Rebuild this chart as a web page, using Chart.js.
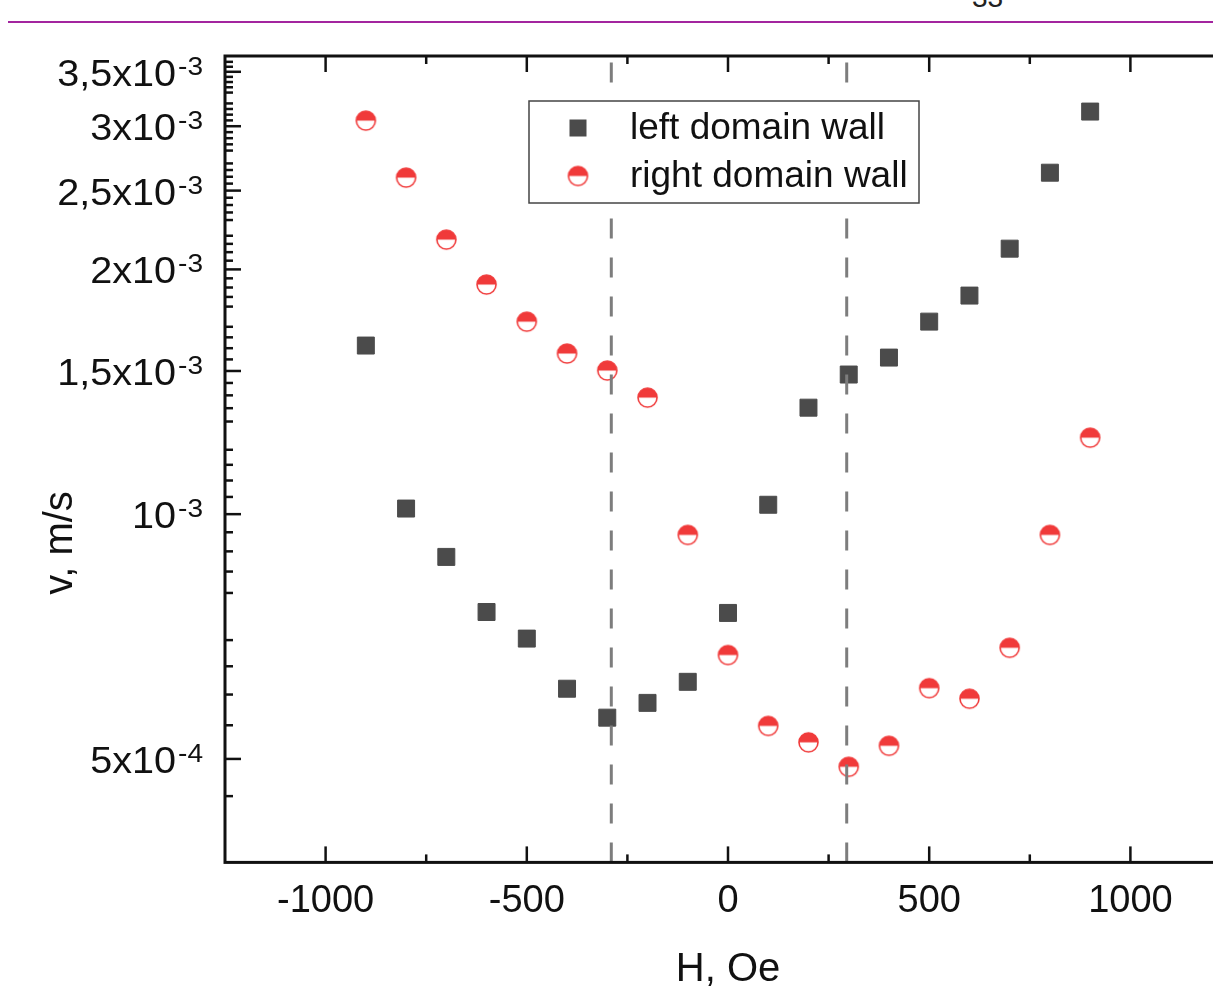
<!DOCTYPE html>
<html>
<head>
<meta charset="utf-8">
<script src="https://cdn.jsdelivr.net/npm/chart.js@4.4.1/dist/chart.umd.min.js"></script>
<style>
  html, body { margin:0; padding:0; background:#fff; overflow:hidden; width:1213px; height:989px; }
  #rule { position:absolute; left:8px; top:21px; width:1205px; height:2px; background:#a3259f; }
  #pageNo { position:absolute; left:972px; top:-16px; font:28px 'Liberation Sans', Arial, sans-serif; line-height:28px; color:#222; }
  #wrap { position:absolute; left:0; top:0; width:1260px; height:989px; }
</style>
</head>
<body>
<div id="rule"></div>
<div id="pageNo">33</div>
<div id="wrap"><canvas id="chart"></canvas></div>
<script>
// field values, Oe
const fieldH = [-900,-800,-700,-600,-500,-400,-300,-200,-100,0,100,200,300,400,500,600,700,800,900];
// wall velocity, m/s
const leftWall = [1.612e-3,1.016e-3,8.86e-4,7.58e-4,7.03e-4,6.10e-4,5.62e-4,5.86e-4,6.22e-4,7.56e-4,
                  1.027e-3,1.352e-3,1.485e-3,1.558e-3,1.725e-3,1.857e-3,2.121e-3,2.630e-3,3.127e-3];
const rightWall = [3.048e-3,2.594e-3,2.176e-3,1.916e-3,1.725e-3,1.576e-3,1.502e-3,1.391e-3,9.43e-4,6.71e-4,
                   5.49e-4,5.24e-4,4.89e-4,5.19e-4,6.11e-4,5.93e-4,6.85e-4,9.43e-4,1.242e-3];
const seriesNames = ['left domain wall', 'right domain wall'];
const coerciveH = [-290, 295];
const yTitle = 'v, m/s';

const xRange = [-1250, 1250];
const yRange = [3.73e-4, 3.66e-3];
const xMajorTicks = [-1000, -500, 0, 500, 1000];
const xTickLabels = ['-1000', '-500', '0', '500', '1000'];
const xMinorTicks = [-750, -250, 250, 750];
const yMajorTicks = [5e-4, 1e-3, 1.5e-3, 2e-3, 2.5e-3, 3e-3, 3.5e-3];
const yTickMantissa = ['5x10', '10', '1,5x10', '2x10', '2,5x10', '3x10', '3,5x10'];
const yTickExponent = ['-4', '-3', '-3', '-3', '-3', '-3', '-3'];
// minor ticks every 0.05e-3 between 0.45e-3 and 3.6e-3
const yMinorTicks = [];
for (let k = 9; k <= 72; k++) { if (k % 10 !== 0 && k % 10 !== 5 || k === 9) yMinorTicks.push(k * 5e-5); }

const FONT = "'Liberation Sans', Arial, sans-serif";
const squareColor = '#4b4b4b';
const red = '#f03a3a';

// half-filled circle marker
function halfCircle(r) {
  const c = document.createElement('canvas');
  const s = Math.ceil(r * 2 + 4);
  c.width = s; c.height = s;
  const g = c.getContext('2d');
  const m = s / 2;
  g.fillStyle = '#fff';
  g.beginPath(); g.arc(m, m, r, 0, Math.PI * 2); g.fill();
  g.fillStyle = red;
  g.beginPath(); g.arc(m, m, r, Math.PI, Math.PI * 2); g.closePath(); g.fill();
  g.strokeStyle = red; g.lineWidth = 1.6;
  g.beginPath(); g.arc(m, m, r, 0, Math.PI * 2); g.stroke();
  return c;
}
const circleMarker = halfCircle(9.5);

// text slightly wider than the font, like the original export
function wideText(ctx, txt, xRight, yBase, size, stretch) {
  ctx.save();
  ctx.font = size + 'px ' + FONT;
  ctx.translate(xRight, yBase);
  ctx.scale(stretch, 1);
  ctx.fillText(txt, 0, 0);
  const w = ctx.measureText(txt).width * stretch;
  ctx.restore();
  return w;
}

const framePlugin = {
  id: 'frame',
  afterDraw(chart) {
    const { ctx, chartArea: a, scales: { x, y } } = chart;
    ctx.save();
    // axes box
    ctx.strokeStyle = '#111';
    ctx.lineWidth = 3;
    ctx.strokeRect(a.left, a.top, a.right - a.left, a.bottom - a.top);
    ctx.lineWidth = 2.5;
    const tick = (x1, y1, x2, y2) => { ctx.beginPath(); ctx.moveTo(x1, y1); ctx.lineTo(x2, y2); ctx.stroke(); };
    xMajorTicks.forEach(v => { const p = x.getPixelForValue(v); tick(p, a.bottom, p, a.bottom - 16); tick(p, a.top, p, a.top + 16); });
    xMinorTicks.forEach(v => { const p = x.getPixelForValue(v); tick(p, a.bottom, p, a.bottom - 8); tick(p, a.top, p, a.top + 8); });
    yMajorTicks.forEach(v => { const p = y.getPixelForValue(v); tick(a.left, p, a.left + 16, p); });
    yMinorTicks.forEach(v => { const p = y.getPixelForValue(v); tick(a.left, p, a.left + 8, p); });

    // y tick labels with superscript exponent
    ctx.fillStyle = '#111';
    ctx.textAlign = 'right';
    ctx.textBaseline = 'alphabetic';
    yMajorTicks.forEach((v, i) => {
      const p = y.getPixelForValue(v);
      const ew = wideText(ctx, yTickExponent[i], 203, p + 3, 26, 1.08);
      wideText(ctx, yTickMantissa[i], 203 - ew - 2, p + 14, 36, 1.1);
    });

    // y axis title (sits low in the original)
    ctx.save();
    ctx.translate(61, 543);
    ctx.rotate(-Math.PI / 2);
    ctx.textAlign = 'center';
    ctx.textBaseline = 'middle';
    ctx.font = '40px ' + FONT;
    ctx.fillText(yTitle, 0, 0);
    ctx.restore();

    // legend
    const lx = 529, ly = 101, lw = 390, lh = 102;
    ctx.fillStyle = '#fff';
    ctx.fillRect(lx, ly, lw, lh);
    ctx.strokeStyle = '#444';
    ctx.lineWidth = 1.5;
    ctx.strokeRect(lx, ly, lw, lh);
    ctx.fillStyle = squareColor;
    ctx.fillRect(578 - 8.5, 128 - 8.5, 17, 17);
    ctx.drawImage(circleMarker, 578 - circleMarker.width / 2, 176 - circleMarker.height / 2);
    ctx.fillStyle = '#111';
    ctx.textAlign = 'left';
    ctx.textBaseline = 'middle';
    ctx.font = '37px ' + FONT;
    ctx.fillText(seriesNames[0], 630, 129);
    ctx.fillText(seriesNames[1], 630, 177);
    ctx.restore();
  }
};

const toPoints = arr => fieldH.map((h, i) => ({ x: h, y: arr[i] }));
const dashed = h => ({
  type: 'line', data: [{ x: h, y: yRange[0] }, { x: h, y: yRange[1] }],
  borderColor: '#7d7d7d', borderWidth: 3, borderDash: [20, 19], pointRadius: 0, order: 0
});

new Chart(document.getElementById('chart'), {
  type: 'scatter',
  data: {
    datasets: [
      dashed(coerciveH[0]),
      dashed(coerciveH[1]),
      { label: seriesNames[0], data: toPoints(leftWall), pointStyle: 'rect', pointRadius: 12,
        backgroundColor: squareColor, borderColor: squareColor, borderWidth: 1, order: 1 },
      { label: seriesNames[1], data: toPoints(rightWall), pointStyle: circleMarker, pointRadius: 10, order: 1 }
    ]
  },
  options: {
    responsive: true, maintainAspectRatio: false, animation: false,
    layout: { padding: { left: 217, top: 56, right: 29, bottom: 0 } },
    plugins: { legend: { display: false }, tooltip: { enabled: false } },
    scales: {
      x: {
        type: 'linear', min: xRange[0], max: xRange[1],
        afterBuildTicks: s => { s.ticks = xMajorTicks.map(v => ({ value: v })); },
        grid: { display: false }, border: { display: false },
        ticks: { color: '#111', font: { family: FONT, size: 38 }, padding: 8, maxRotation: 0,
                 callback: (v, i) => xTickLabels[i] },
        title: { display: true, text: 'H, Oe', color: '#111', font: { family: FONT, size: 40, lineHeight: 1 },
                 padding: { top: 18, bottom: -1 } }
      },
      y: {
        type: 'logarithmic', min: yRange[0], max: yRange[1],
        grid: { display: false }, border: { display: false },
        ticks: { display: false },
        title: { display: false }
      }
    }
  },
  plugins: [framePlugin]
});
</script>
</body>
</html>
